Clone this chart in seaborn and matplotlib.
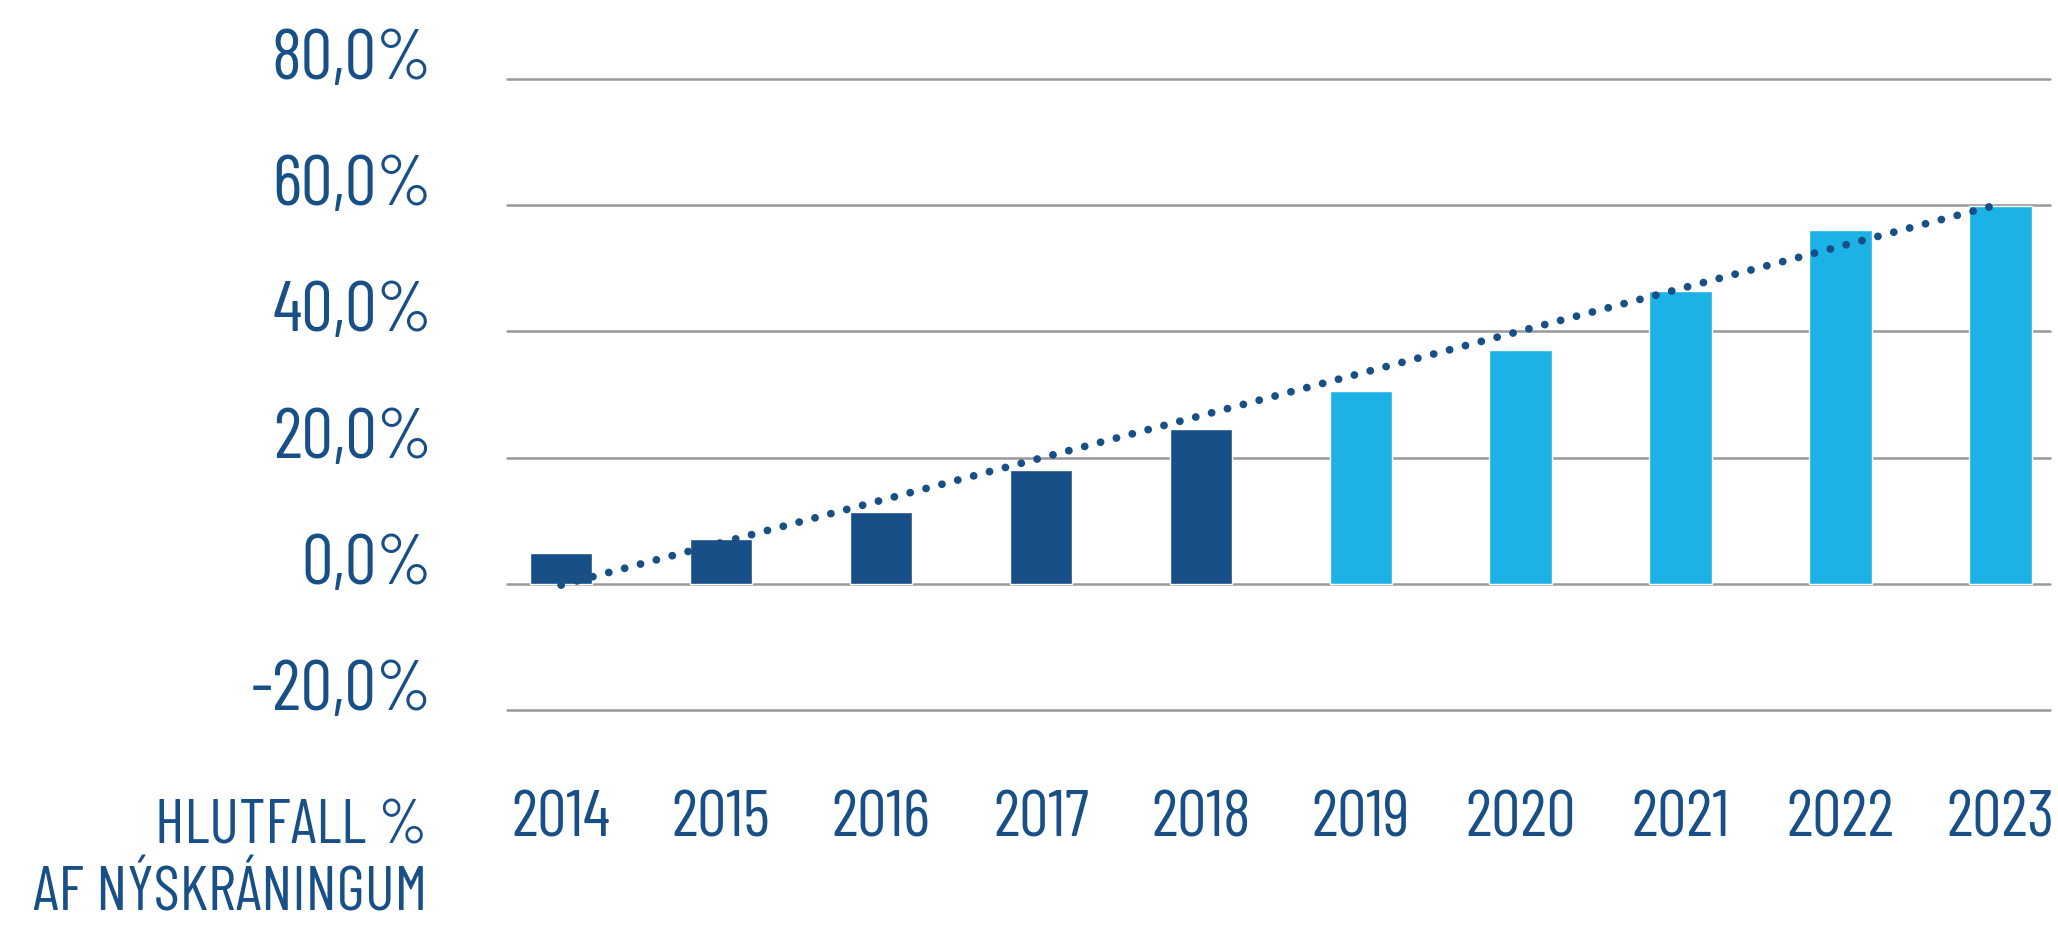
import matplotlib
matplotlib.use('Agg')
import matplotlib.pyplot as plt
import matplotlib.transforms as mtransforms
from matplotlib import font_manager
import seaborn as sns
import pandas as pd

# data
years = ['2014', '2015', '2016', '2017', '2018', '2019', '2020', '2021', '2022', '2023']
share = [4.9, 7.1, 11.4, 18.0, 24.5, 30.5, 37.0, 46.4, 56.0, 59.9]
period = ['eldri'] * 5 + ['nyrri'] * 5
trend_years = ['2014', '2023']
trend_values = [-0.2, 60.2]
y_ticks = [-20, 0, 20, 40, 60, 80]
label_lines = ['HLUTFALL %', 'AF NÝSKRÁNINGUM']

dark_blue = '#174F86'
light_blue = '#1CB2E5'
grid_grey = '#999999'

sns.set_theme(style='white')
installed = {f.name for f in font_manager.fontManager.ttflist}
font = next((f for f in ['Barlow Condensed', 'Roboto Condensed', 'IBM Plex Sans Condensed',
                         'Liberation Sans Narrow'] if f in installed), 'DejaVu Sans')
plt.rcParams['font.family'] = [font, 'DejaVu Sans']
plt.rcParams['font.weight'] = 'normal'

df = pd.DataFrame({'Ár': years, 'Hlutfall': share, 'Tímabil': period})

fig = plt.figure(figsize=(20.58, 9.25), dpi=100)
ax = fig.add_axes([0.2464, 0.2324, 0.7497, 0.6822])

sns.barplot(data=df, x='Ár', y='Hlutfall', hue='Tímabil',
            palette={'eldri': dark_blue, 'nyrri': light_blue},
            dodge=False, width=0.39, saturation=1, legend=False, ax=ax)

# dotted linear trend line
trend_x = [years.index(y) for y in trend_years]
ax.plot(trend_x, trend_values, color=dark_blue, lw=5.6,
        linestyle=(0, (0.01, 2.1)), dash_capstyle='round', zorder=5)

ax.set_xlim(-0.338, 9.31)
ax.set_ylim(-20, 80)
ax.set_yticks(y_ticks)
ax.set_yticklabels([f'{v:.1f}%'.replace('.', ',') for v in y_ticks])
ax.set_xlabel('')
ax.set_ylabel('')

ax.yaxis.grid(True, color=grid_grey, lw=1.8)
ax.set_axisbelow(True)
for line in ax.get_ygridlines():
    line.set_clip_on(False)
for s in ax.spines.values():
    s.set_visible(False)

ax.tick_params(axis='y', length=0, pad=54, labelsize=51, labelcolor=dark_blue)
ax.tick_params(axis='x', length=0, pad=58, labelsize=47, labelcolor=dark_blue)

# tick labels sit a little above their grid lines
shift = mtransforms.ScaledTranslation(0, 0.25, fig.dpi_scale_trans)
for lbl in ax.get_yticklabels():
    lbl.set_transform(lbl.get_transform() + shift)

fig.text(0.2078, 0.0886, label_lines[0], ha='right', va='baseline',
         fontsize=45, color=dark_blue)
fig.text(0.2078, 0.003, label_lines[1], ha='right', va='bottom',
         fontsize=45, color=dark_blue)

fig.savefig('out.png', dpi=100)
